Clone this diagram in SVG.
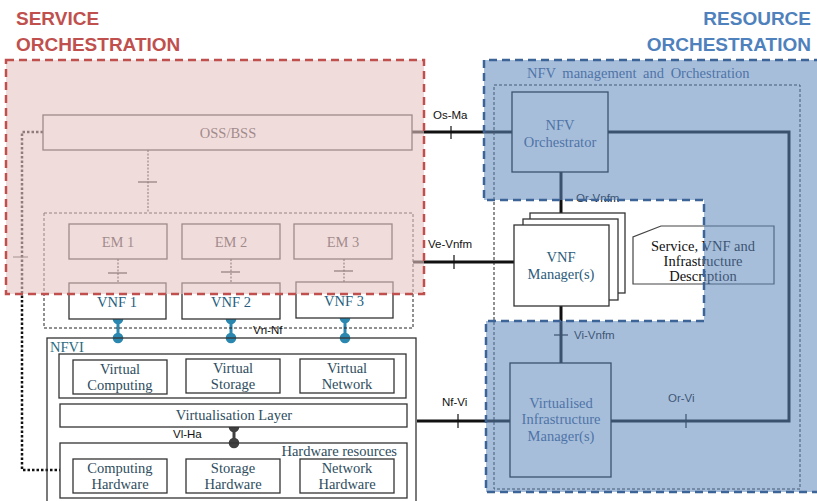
<svg xmlns="http://www.w3.org/2000/svg" width="817" height="501" viewBox="0 0 817 501">
<defs>
<style>
.box{fill:#fff;stroke:#333;stroke-width:1.3}
.boxn{fill:none;stroke:#333;stroke-width:1.3}
.t{font-family:"Liberation Serif",serif;font-size:14.5px;text-anchor:middle}
.lbl{font-family:"Liberation Sans",Arial,sans-serif;font-size:11.5px;fill:#111}
.tick{stroke:#111;stroke-width:1.2}
.thick{fill:none;stroke:#111;stroke-width:3}
.title{font-family:"Liberation Sans",Arial,sans-serif;font-weight:bold;font-size:19px}
</style>
</defs>
<rect width="817" height="501" fill="#fff"/>

<!-- connectors -->
<g id="connectors">
  <line x1="412" y1="132" x2="512" y2="132" class="thick" stroke-width="2.5"/>
  <line x1="451" y1="126" x2="451" y2="139" class="tick"/>
  <line x1="413" y1="262" x2="514" y2="262" class="thick" stroke-width="2.5"/>
  <line x1="454" y1="255" x2="454" y2="269" class="tick"/>
  <line x1="417" y1="421" x2="510" y2="421" class="thick" stroke-width="2.5"/>
  <line x1="458" y1="414" x2="458" y2="428" class="tick"/>
  <path d="M608,132 H789 V421 H611" class="thick"/>
  <line x1="686" y1="414" x2="686" y2="428" class="tick"/>
  <line x1="561" y1="172" x2="561" y2="225" class="thick"/>
  <line x1="561" y1="306" x2="561" y2="363" class="thick"/>
  <line x1="554" y1="335" x2="568" y2="335" class="tick"/>
  <line x1="148" y1="150" x2="148" y2="213" stroke="#333" stroke-width="1.2" stroke-dasharray="2,1.5"/>
  <line x1="138" y1="182" x2="157" y2="182" class="tick"/>
  <line x1="118" y1="259" x2="118" y2="283" stroke="#333" stroke-width="1.2" stroke-dasharray="2,1.5"/>
  <line x1="108" y1="273" x2="127" y2="273" class="tick"/>
  <line x1="231" y1="259" x2="231" y2="283" stroke="#333" stroke-width="1.2" stroke-dasharray="2,1.5"/>
  <line x1="221" y1="272" x2="240" y2="272" class="tick"/>
  <line x1="344" y1="259" x2="344" y2="282" stroke="#333" stroke-width="1.2" stroke-dasharray="2,1.5"/>
  <line x1="334" y1="271" x2="353" y2="271" class="tick"/>
  <path d="M43,132 H22 V470 H60" fill="none" stroke="#111" stroke-width="2.5" stroke-dasharray="2.5,2"/>
  <line x1="13" y1="257" x2="28" y2="257" stroke="#444" stroke-width="1"/>
  <g stroke="#2a88b0" stroke-width="3" fill="#2a88b0">
    <line x1="118" y1="319" x2="118" y2="338"/><circle cx="118" cy="319" r="3.8"/><circle cx="118" cy="338" r="3.8"/>
    <line x1="231" y1="319" x2="231" y2="338"/><circle cx="231" cy="319" r="3.8"/><circle cx="231" cy="338" r="3.8"/>
    <line x1="345" y1="318" x2="345" y2="338"/><circle cx="345" cy="318" r="3.8"/><circle cx="345" cy="338" r="3.8"/>
  </g>
  <g stroke="#404040" stroke-width="3" fill="#404040">
    <line x1="234" y1="427" x2="234" y2="443"/><circle cx="234" cy="427" r="3.8"/><circle cx="234" cy="443" r="3.8"/>
  </g>
  <text x="433" y="119" class="lbl">Os-Ma</text>
  <text x="428" y="248" class="lbl">Ve-Vnfm</text>
  <text x="442" y="406" class="lbl">Nf-Vi</text>
  <text x="668" y="402" class="lbl">Or-Vi</text>
  <text x="574" y="339" class="lbl">Vi-Vnfm</text>
  <text x="576" y="202" class="lbl">Or-Vnfm</text>
  <text x="253" y="334" class="lbl">Vn-Nf</text>
  <text x="173" y="438" class="lbl">Vl-Ha</text>
</g>

<g id="oss-bss">
  <rect x="43" y="115" width="369" height="35" class="box"/>
  <text x="228" y="138" class="t" fill="#333">OSS/BSS</text>
</g>
<g id="em-group">
  <rect x="44" y="213" width="369" height="115" fill="none" stroke="#222" stroke-width="1" stroke-dasharray="3,2"/>
</g>
<g id="em1"><rect x="69" y="224" width="98" height="35" class="box"/><text x="118" y="247" class="t" fill="#333">EM 1</text></g>
<g id="em2"><rect x="182" y="224" width="98" height="35" class="box"/><text x="231" y="247" class="t" fill="#333">EM 2</text></g>
<g id="em3"><rect x="294" y="224" width="98" height="35" class="box"/><text x="343" y="247" class="t" fill="#333">EM 3</text></g>
<g id="vnf1"><rect x="69" y="283" width="97" height="36" class="box"/><text x="117" y="307" class="t" fill="#245e7e">VNF 1</text></g>
<g id="vnf2"><rect x="182" y="283" width="98" height="36" class="box"/><text x="231" y="307" class="t" fill="#245e7e">VNF 2</text></g>
<g id="vnf3"><rect x="296" y="282" width="97" height="36" class="box"/><text x="344" y="306" class="t" fill="#245e7e">VNF 3</text></g>

<g id="nfvi">
  <rect x="47" y="338" width="369" height="170" fill="none" stroke="#333" stroke-width="1.3"/>
  <text x="50" y="352" font-family="Liberation Serif,serif" font-size="14.5" fill="#2a6a80">NFVI</text>
</g>
<g id="virtual-resources">
  <rect x="59" y="354" width="347" height="44" class="boxn"/>
</g>
<g id="virtual-computing"><rect x="73" y="360" width="94" height="34" class="box"/><text x="120" y="374" class="t" fill="#2e4d5e">Virtual</text><text x="120" y="390" class="t" fill="#2e4d5e">Computing</text></g>
<g id="virtual-storage"><rect x="186" y="359" width="94" height="34" class="box"/><text x="233" y="373" class="t" fill="#2e4d5e">Virtual</text><text x="233" y="389" class="t" fill="#2e4d5e">Storage</text></g>
<g id="virtual-network"><rect x="300" y="359" width="94" height="34" class="box"/><text x="347" y="373" class="t" fill="#2e4d5e">Virtual</text><text x="347" y="389" class="t" fill="#2e4d5e">Network</text></g>
<g id="virtualisation-layer"><rect x="60" y="404" width="347" height="23" class="box"/><text x="234" y="420" class="t" fill="#2e4d5e">Virtualisation Layer</text></g>
<g id="hardware-resources"><rect x="60" y="443" width="347" height="55" class="boxn"/><text x="397" y="456" class="t" fill="#2e4d5e" style="text-anchor:end">Hardware resources</text></g>
<g id="computing-hardware"><rect x="73" y="459" width="94" height="34" class="box"/><text x="120" y="473" class="t" fill="#2e4d5e">Computing</text><text x="120" y="489" class="t" fill="#2e4d5e">Hardware</text></g>
<g id="storage-hardware"><rect x="186" y="459" width="94" height="34" class="box"/><text x="233" y="473" class="t" fill="#2e4d5e">Storage</text><text x="233" y="489" class="t" fill="#2e4d5e">Hardware</text></g>
<g id="network-hardware"><rect x="300" y="459" width="94" height="34" class="box"/><text x="347" y="473" class="t" fill="#2e4d5e">Network</text><text x="347" y="489" class="t" fill="#2e4d5e">Hardware</text></g>

<g id="nfv-mano">
  <rect x="494" y="85" width="306" height="404" fill="none" stroke="#222" stroke-width="1" stroke-dasharray="3,2"/>
  <text x="527" y="78" font-family="Liberation Serif,serif" font-size="14.5" fill="#3a5a8a" word-spacing="3">NFV management and Orchestration</text>
</g>
<g id="nfv-orchestrator">
  <rect x="512" y="92" width="96" height="80" fill="none" stroke="#111" stroke-width="1.3"/>
  <text x="560" y="130" class="t" fill="#3a5a8a">NFV</text>
  <text x="560" y="147" class="t" fill="#3a5a8a">Orchestrator</text>
</g>
<g id="vnf-manager">
  <rect x="530" y="213" width="95" height="80" class="box"/>
  <rect x="523" y="219" width="95" height="81" class="box"/>
  <rect x="514" y="225" width="95" height="81" class="box"/>
  <text x="561" y="262" class="t" fill="#2b5b7b">VNF</text>
  <text x="561" y="279" class="t" fill="#2b5b7b">Manager(s)</text>
</g>
<g id="description">
  <path d="M661,226 H774 V284 H633 V237 Z" fill="#fff" stroke="#444" stroke-width="1.2"/>
  <text x="703" y="251" class="t" fill="#111">Service, VNF and</text>
  <text x="703" y="266" class="t" fill="#111">Infrastructure</text>
  <text x="703" y="281" class="t" fill="#111">Description</text>
</g>
<g id="vim">
  <rect x="510" y="363" width="101" height="114" fill="none" stroke="#111" stroke-width="1.3"/>
  <text x="561" y="408" class="t" fill="#3a5a8a">Virtualised</text>
  <text x="561" y="424" class="t" fill="#3a5a8a">Infrastructure</text>
  <text x="561" y="441" class="t" fill="#3a5a8a">Manager(s)</text>
</g>

<g id="service-orchestration">
  <rect x="6" y="60" width="418" height="234" fill="#e8c4c4" fill-opacity="0.6"/>
  <rect x="6" y="60" width="418" height="234" fill="none" stroke="#c0504d" stroke-width="2.5" stroke-dasharray="8,5"/>
  <text x="16" y="25" class="title" fill="#c0504d">SERVICE</text>
  <text x="16" y="51" class="title" fill="#c0504d">ORCHESTRATION</text>
</g>
<g id="resource-orchestration">
  <path d="M484,60 H822 V492 H486 V321 H704 V200 H484 Z" fill="#5f89be" fill-opacity="0.55"/>
  <path d="M822,60 H484 V200 H704 V321 H486 V492 H822" fill="none" stroke="#3c6496" stroke-width="2.5" stroke-dasharray="8,5"/>
  <text x="811" y="25" class="title" fill="#4f81bd" text-anchor="end">RESOURCE</text>
  <text x="811" y="51" class="title" fill="#4f81bd" text-anchor="end">ORCHESTRATION</text>
</g>
</svg>
